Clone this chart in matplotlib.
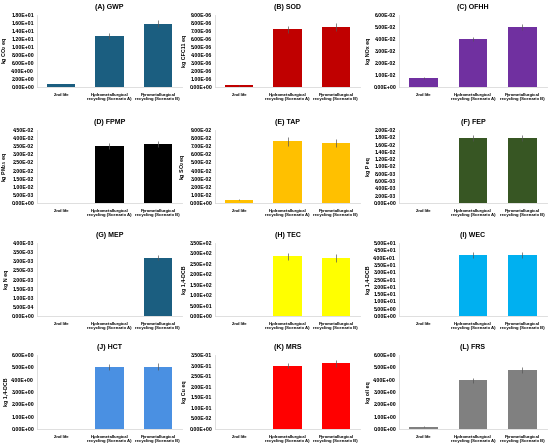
import matplotlib
matplotlib.use("Agg")
import matplotlib.pyplot as plt
from matplotlib.ticker import FuncFormatter

plt.rcParams['font.family'] = ['Liberation Sans', 'DejaVu Sans']
plt.rcParams['font.weight'] = 'bold'
plt.rcParams['mathtext.fontset'] = 'custom'
plt.rcParams['mathtext.rm'] = 'Liberation Sans:bold'
plt.rcParams['mathtext.default'] = 'rm'

categories = ["2nd life",
              "Hydrometallurgical\nrecycling (Scenario A)",
              "Pyrometallurgical\nrecycling (Scenario B)"]

# panel data: title, unit, values, errors, y max, y step, colour
titles = ["(A) GWP", "(B) SOD", "(C) OFHH", "(D) FPMP", "(E) TAP", "(F) FEP",
          "(G) MEP", "(H) TEC", "(I) WEC", "(J) HCT", "(K) MRS", "(L) FRS"]
units = ["kg CO$_2$ eq", "kg CFC11 eq", "kg NOx eq", "kg PM$_{2.5}$ eq",
         "kg SO$_2$ eq", "kg P eq", "kg N eq", "kg 1,4-DCB", "kg 1,4-DCB",
         "kg 1,4-DCB", "kg Cu eq", "kg oil eq"]
values = [
    [0.7, 12.7, 15.8],
    [0.2e-6, 7.2e-6, 7.5e-6],
    [0.75e-2, 4.0e-2, 5.0e-2],
    [0.0, 3.5e-2, 3.65e-2],
    [0.4e-2, 7.6e-2, 7.4e-2],
    [0.0, 1.78e-2, 1.78e-2],
    [0.0, 0.0, 3.2e-3],
    [0.0, 287, 278],
    [0.0, 42.0, 42.0],
    [0.0, 5.0, 5.05],
    [0.0, 0.30, 0.31],
    [0.2, 3.95, 4.8],
]
errors = [
    [0.05, 0.7, 0.9],
    [0.02e-6, 0.45e-6, 0.45e-6],
    [0.05e-2, 0.2e-2, 0.25e-2],
    [0.0, 0.2e-2, 0.2e-2],
    [0.05e-2, 0.55e-2, 0.45e-2],
    [0.0, 0.08e-2, 0.08e-2],
    [0.0, 0.0, 0.15e-3],
    [0.0, 17, 17],
    [0.0, 2.0, 2.0],
    [0.0, 0.25, 0.3],
    [0.0, 0.01, 0.015],
    [0.02, 0.2, 0.25],
]
ymax = [18, 9e-6, 6e-2, 4.5e-2, 9e-2, 2e-2, 4e-3, 350, 50, 6, 0.35, 6]
ystep = [2, 1e-6, 1e-2, 5e-3, 1e-2, 2e-3, 5e-4, 50, 5, 1, 5e-2, 1]
colors = ["#1B5E80", "#C00000", "#7030A0", "#000000", "#FFC000", "#375623",
          "#1B5E80", "#FFFF00", "#00B0F0", "#4A90E2", "#FF0000", "#808080"]

W, H = 550, 448
fig = plt.figure(figsize=(W / 100, H / 100), dpi=100)

col_left = [37, 215, 399]
col_right = [182, 360, 547]
row_top = [15, 130, 243, 355]
row_bottom = [87, 203, 316, 429]

for i in range(12):
    r, c = divmod(i, 3)
    ax = fig.add_axes([col_left[c] / W, 1 - row_bottom[r] / H,
                       (col_right[c] - col_left[c]) / W,
                       (row_bottom[r] - row_top[r]) / H])
    x = range(len(categories))
    ax.bar(x, values[i], width=0.58, color=colors[i],
           yerr=errors[i], error_kw=dict(ecolor="#555555", elinewidth=0.5, capsize=0))
    ax.set_xlim(-0.5, 2.5)
    ax.set_ylim(0, ymax[i])
    n = int(round(ymax[i] / ystep[i]))
    ax.set_yticks([k * ystep[i] for k in range(n + 1)])
    ax.yaxis.set_major_formatter(FuncFormatter(lambda v, p: f"{v:.2E}"))
    ax.set_xticks(list(x))
    ax.set_xticklabels(categories, fontsize=3.1, fontweight='bold')
    ax.tick_params(axis='y', labelsize=3.7, length=0, pad=2)
    ax.tick_params(axis='x', length=0, pad=4)
    for s in ['top', 'right']:
        ax.spines[s].set_visible(False)
    for s in ['left', 'bottom']:
        ax.spines[s].set_color("#D9D9D9")
        ax.spines[s].set_linewidth(0.6)
    ax.set_title(titles[i], fontsize=5, fontweight='bold', pad=4)
    ax.set_ylabel(units[i], fontsize=3.8, fontweight='bold', labelpad=2)

fig.savefig("out.png", dpi=100)
